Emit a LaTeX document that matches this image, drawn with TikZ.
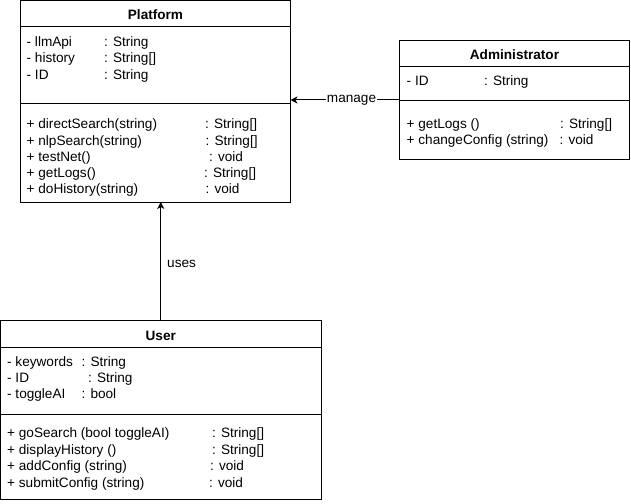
\documentclass[tikz,border=0pt]{standalone}
\usepackage{fontspec}
\setmainfont{Liberation Sans}
\usetikzlibrary{arrows.meta}
\tikzset{
  cls/.style={draw, line width=1bp, anchor=north west, inner sep=0pt, outer sep=0pt},
  sep/.style={line width=1bp},
  txt/.style={anchor=base west, inner sep=0pt, font=\fontsize{13.6bp}{15bp}\selectfont},
  ttl/.style={anchor=base, inner sep=0pt, font=\fontsize{13.6bp}{15bp}\selectfont\bfseries},
  conn/.style={line width=1bp, -{Stealth[length=7bp,width=7bp,inset=2bp]}},
  lbl/.style={fill=white, inner sep=1bp, font=\fontsize{13.6bp}{15bp}\selectfont},
}
\begin{document}
\begin{tikzpicture}[x=1bp,y=-1bp]
\useasboundingbox (0,0) rectangle (631,504);
% boxes
\node[cls, minimum width=270bp, minimum height=201.5bp] (platform) at (20.5,0.5) {};
\node[cls, minimum width=230bp, minimum height=119bp] (admin) at (399.5,40.5) {};
\node[cls, minimum width=320.5bp, minimum height=179bp] (user) at (0.5,320.5) {};
% separators
\draw[sep] (platform.west |- 0,26.5) -- (platform.east |- 0,26.5);
\draw[sep] (platform.west |- 0,104) -- (platform.east |- 0,104);
\draw[sep] (admin.west |- 0,66.5) -- (admin.east |- 0,66.5);
\draw[sep] (admin.west |- 0,100.5) -- (admin.east |- 0,100.5);
\draw[sep] (user.west |- 0,347) -- (user.east |- 0,347);
\draw[sep] (user.west |- 0,414.5) -- (user.east |- 0,414.5);
% Platform texts
\node[ttl] (ptitle) at (155.5,19.5) {Platform};
\node[txt] (pa1) at (26.5,46.5) {- llmApi};
\node[txt] (pa2) at (26.5,63) {- history};
\node[txt] (pa3) at (26.5,79.5) {- ID};
\node[txt] (pt1) at (104,46.5) {: String};
\node[txt] (pt2) at (104,63) {: String[]};
\node[txt] (pt3) at (104,79.5) {: String};
\node[txt] (pm1) at (26.5,129) {+ directSearch(string)};
\node[txt] (pm2) at (26.5,145.5) {+ nlpSearch(string)};
\node[txt] (pm3) at (26.5,161.5) {+ testNet()};
\node[txt] (pm4) at (26.5,177.5) {+ getLogs()};
\node[txt] (pm5) at (26.5,194) {+ doHistory(string)};
\node[txt] (pr1) at (205,129) {: String[]};
\node[txt] (pr2) at (205.5,145.5) {: String[]};
\node[txt] (pr3) at (209,161.5) {: void};
\node[txt] (pr4) at (204,177.5) {: String[]};
\node[txt] (pr5) at (205.5,194) {: void};
% Administrator texts
\node[ttl] (atitle) at (514.5,59.5) {Administrator};
\node[txt] (aa1) at (406.5,85.7) {- ID};
\node[txt] (at1) at (484,85.7) {: String};
\node[txt] (am1) at (406.5,129) {+ getLogs ()};
\node[txt] (am2) at (406.5,144.5) {+ changeConfig (string)};
\node[txt] (ar1) at (560,129) {: String[]};
\node[txt] (ar2) at (559.5,144.5) {: void};
% User texts
\node[ttl] (utitle) at (160.75,340) {User};
\node[txt] (ua1) at (7,366.5) {- keywords};
\node[txt] (ua2) at (7,382.5) {- ID};
\node[txt] (ua3) at (7,398.5) {- toggleAI};
\node[txt] (ut1) at (81.5,366.5) {: String};
\node[txt] (ut2) at (88,382.5) {: String};
\node[txt] (ut3) at (81.5,398.5) {: bool};
\node[txt] (um1) at (7,437.3) {+ goSearch (bool toggleAI)};
\node[txt] (um2) at (7,454) {+ displayHistory ()};
\node[txt] (um3) at (7,470.7) {+ addConfig (string)};
\node[txt] (um4) at (7,487) {+ submitConfig (string)};
\node[txt] (ur1) at (212,437.3) {: String[]};
\node[txt] (ur2) at (212,454) {: String[]};
\node[txt] (ur3) at (210,470.7) {: void};
\node[txt] (ur4) at (209,487) {: void};
% connectors
\draw[conn] (admin.west) -- node[lbl, pos=0.44, inner sep=0.5bp] (mlbl) {manage} (admin.west -| platform.east);
\draw[conn] (user.north) -- (user.north |- platform.south);
\node[txt] (ulbl) at (167,267.5) {uses};
\end{tikzpicture}
\end{document}
